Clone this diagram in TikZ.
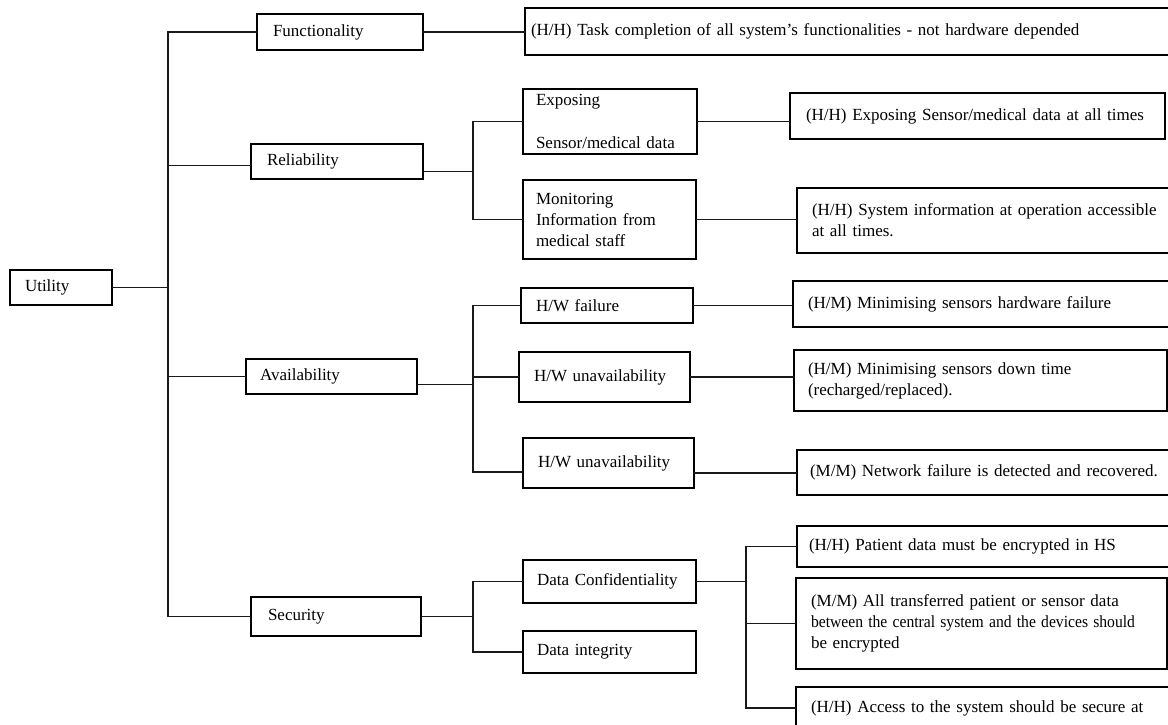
\documentclass[tikz,border=0pt]{standalone}
\usepackage{fontspec}
\setmainfont{Liberation Serif}
\usepackage{graphicx}
\newcommand\mypad[1]{\hspace*{#1pt}}
\begin{document}
\begin{tikzpicture}[x=1pt,y=-1pt,
  bx/.style={draw=black, line width=1.5pt, rectangle, anchor=north west,
    inner xsep=0pt, inner ysep=0pt, outer sep=0pt, align=left,
    font=\fontsize{17}{21}\selectfont},
  ln/.style={draw=black!90, line width=1.9pt, line join=miter}]
\useasboundingbox (0,0) rectangle (1168,725);
\clip (0,0) rectangle (1168,725);
% level 0
\node[bx, minimum width=102, minimum height=35, text width=102pt] (util) at (10,270) {\mypad{15}Utility};
% level 1
\node[bx, minimum width=166, minimum height=36, text width=166pt] (func) at (257,14) {\mypad{16}Functionality};
\node[bx, minimum width=172, minimum height=35, text width=172pt] (rel) at (251,144) {\mypad{16}Reliability};
\node[bx, minimum width=171, minimum height=35, text width=171pt] (avail) at (246,359) {\mypad{14}Availability};
\node[bx, minimum width=170, minimum height=39, text width=170pt] (sec) at (251,597) {\mypad{17}Security};
% level 2
\node[bx, minimum width=174, minimum height=65, text width=174pt] (exp) at (523,89) {\mypad{13}Exposing\\[22pt]\mypad{13}Sensor/medical data};
\node[bx, minimum width=173, minimum height=79, text width=173pt] (mon) at (523,180) {\mypad{13}Monitoring\\\mypad{13}Information from\\\mypad{13}medical staff};
\node[bx, minimum width=172, minimum height=35, text width=172pt] (hwf) at (521,288) {\mypad{15}H/W failure};
\node[bx, minimum width=171, minimum height=50, text width=171pt] (hwu1) at (519,352) {\mypad{15}H/W unavailability};
\node[bx, minimum width=171, minimum height=50, text width=171pt] (hwu2) at (523,438) {\mypad{15}H/W unavailability};
\node[bx, minimum width=173, minimum height=43, text width=173pt] (dc) at (523,560) {\mypad{14}Data Confidentiality};
\node[bx, minimum width=173, minimum height=42, text width=173pt] (di) at (523,631) {\mypad{14}Data integrity};
% level 3
\node[bx, minimum width=660, minimum height=47, text width=660pt] (funcd) at (525,8) {\mypad{6}(H/H) Task completion of all system’s functionalities - not hardware depended};
\node[bx, minimum width=375, minimum height=46, text width=375pt] (expd) at (790,93) {\mypad{16}(H/H) Exposing Sensor/medical data at all times};
\node[bx, minimum width=390, minimum height=65, text width=390pt] (mond) at (797,188) {\mypad{15}(H/H) System information at operation accessible\\\mypad{15}at all times.};
\node[bx, minimum width=390, minimum height=46, text width=390pt] (hwfd) at (793,281) {\mypad{15}(H/M) Minimising sensors hardware failure};
\node[bx, minimum width=373, minimum height=61, text width=373pt] (hwu1d) at (794,350) {\mypad{14}(H/M) Minimising sensors down time\\\mypad{14}(recharged/replaced).};
\node[bx, minimum width=390, minimum height=45, text width=390pt] (hwu2d) at (797,450) {\mypad{13}(M/M) Network failure is detected and recovered.};
\node[bx, minimum width=390, minimum height=41, text width=390pt] (patd) at (797,526) {\mypad{12}(H/H) Patient data must be encrypted in HS};
\node[bx, minimum width=371, minimum height=91, text width=371pt] (mmd) at (796,578) {\mypad{15}(M/M) All transferred patient or sensor data\\\mypad{15}\scalebox{0.92}[1]{between the central system and the devices should}\\\mypad{15}be encrypted};
\node[bx, minimum width=390, minimum height=42, text width=390pt] (accd) at (796,687) {\mypad{15}(H/H) Access to the system should be secure at};
% junction columns
\coordinate (m) at (168,0);
\coordinate (r) at (473,0);
\coordinate (s) at (746,0);
\coordinate (relin) at ([yshift=-4pt]rel.west);
\coordinate (relout) at ([yshift=-10pt]rel.east);
\coordinate (availout) at ([yshift=-8pt]avail.east);
\coordinate (hwu2in) at ([yshift=-9pt]hwu2.west);
\coordinate (hwu2out) at ([yshift=-10pt]hwu2.east);
% connectors
\draw[ln] (util.east) -- (util.east -| m);
\draw[ln] (func.west) -- (func.west -| m) -- (sec.west -| m) -- (sec.west);
\draw[ln] (relin -| m) -- (relin);
\draw[ln] (avail.west -| m) -- (avail.west);
\draw[ln] (relout) -- (relout -| r);
\draw[ln] (exp.west) -- (exp.west -| r) -- (mon.west -| r) -- (mon.west);
\draw[ln] (availout) -- (availout -| r);
\draw[ln] (hwf.west) -- (hwf.west -| r) -- (hwu2in -| r) -- (hwu2in);
\draw[ln] (hwu1.west -| r) -- (hwu1.west);
\draw[ln] (sec.east) -- (sec.east -| r);
\draw[ln] (dc.west) -- (dc.west -| r) -- (di.west -| r) -- (di.west);
\draw[ln] (dc.east) -- (dc.east -| s);
\draw[ln] (patd.west) -- (patd.west -| s) -- (accd.west -| s) -- (accd.west);
\draw[ln] (mmd.west -| s) -- (mmd.west);
\draw[ln] (func.east) -- (func.east -| funcd.west);
\draw[ln] (exp.east) -- (exp.east -| expd.west);
\draw[ln] (mon.east) -- (mon.east -| mond.west);
\draw[ln] (hwf.east) -- (hwf.east -| hwfd.west);
\draw[ln] (hwu1.east) -- (hwu1.east -| hwu1d.west);
\draw[ln] (hwu2out) -- (hwu2out -| hwu2d.west);
\end{tikzpicture}
\end{document}
